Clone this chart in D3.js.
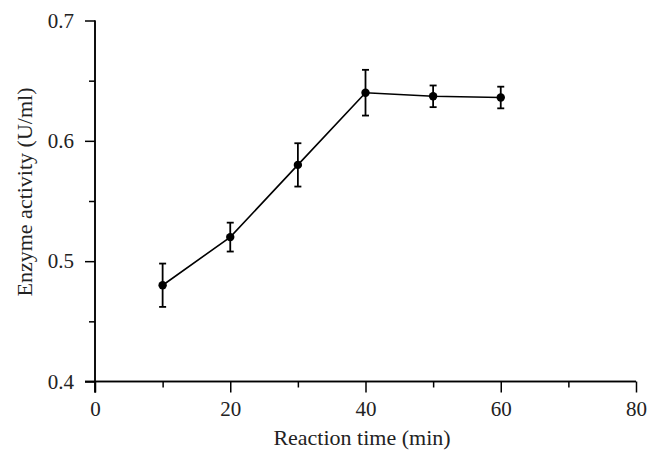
<!DOCTYPE html>
<html><head><meta charset="utf-8">
<script src="https://cdn.jsdelivr.net/npm/d3@7"></script>
<style>body{margin:0;background:#fff}svg{display:block}</style>
</head><body>
<svg id="c" width="660" height="467"></svg>
<script>
const times = [10, 20, 30, 40, 50, 60];
const activity = [0.480, 0.520, 0.580, 0.640, 0.637, 0.636];
const errors = [0.018, 0.012, 0.018, 0.019, 0.009, 0.009];
const xMajorTicks = [0, 20, 40, 60, 80];
const xMinorTicks = [10, 30, 50, 70];
const yMajorTicks = [0.4, 0.5, 0.6, 0.7];
const yMinorTicks = [0.45, 0.55, 0.65];
const xTitle = "Reaction time (min)";
const yTitle = "Enzyme activity (U/ml)";

const svg = d3.select("#c");
const font = "'Liberation Serif', 'DejaVu Serif', serif";
const x = d3.scaleLinear().domain([0, 80]).range([95, 636]);
const y = d3.scaleLinear().domain([0.4, 0.7]).range([381.5, 20.5]);

const gx = svg.append("g").attr("transform", `translate(0,${y(0.4)})`);
gx.call(d3.axisBottom(x).tickValues(xMajorTicks).tickSize(11).tickPadding(9).tickFormat(d3.format("d")));
gx.append("g").call(d3.axisBottom(x).tickValues(xMinorTicks).tickSize(6).tickFormat(""));
gx.selectAll(".domain").attr("stroke-width", 1.5).attr("d", `M${x(0)-10},0H${x(80)}`);

const gy = svg.append("g").attr("transform", `translate(${x(0)},0)`);
gy.call(d3.axisLeft(y).tickValues(yMajorTicks).tickSize(10).tickPadding(11).tickFormat(d3.format(".1f")));
gy.append("g").call(d3.axisLeft(y).tickValues(yMinorTicks).tickSize(6).tickFormat(""));
gy.selectAll(".domain").attr("stroke-width", 1.5).attr("d", `M0,${y(0.7)}V${y(0.4)+11}`);

svg.selectAll(".tick line").attr("stroke", "#000").attr("stroke-width", 1.5);
svg.selectAll(".tick text").attr("font-family", font).attr("font-size", 21).attr("fill", "#222");
svg.selectAll(".domain").attr("stroke", "#000");

// line
svg.append("path")
  .datum(times.map((t, i) => [t, activity[i]]))
  .attr("fill", "none").attr("stroke", "#000").attr("stroke-width", 1.6)
  .attr("d", d3.line().x(d => x(d[0])).y(d => y(d[1])));

// error bars
const eb = svg.append("g").attr("stroke", "#000").attr("stroke-width", 1.8);
times.forEach((t, i) => {
  const cx = x(t), y1 = y(activity[i] + errors[i]), y2 = y(activity[i] - errors[i]);
  eb.append("line").attr("x1", cx).attr("x2", cx).attr("y1", y1).attr("y2", y2);
  eb.append("line").attr("x1", cx - 3.5).attr("x2", cx + 3.5).attr("y1", y1).attr("y2", y1);
  eb.append("line").attr("x1", cx - 3.5).attr("x2", cx + 3.5).attr("y1", y2).attr("y2", y2);
});

svg.append("g").selectAll("circle").data(times).join("circle")
  .attr("cx", d => x(d)).attr("cy", (d, i) => y(activity[i])).attr("r", 4.2).attr("fill", "#000");

svg.append("text").attr("x", 362).attr("y", 445).attr("text-anchor", "middle")
  .attr("font-family", font).attr("font-size", 22).attr("fill", "#222").text(xTitle);
svg.append("text").attr("transform", "translate(32,192) rotate(-90)").attr("text-anchor", "middle")
  .attr("font-family", font).attr("font-size", 22).attr("fill", "#222").text(yTitle);
</script>
</body></html>
